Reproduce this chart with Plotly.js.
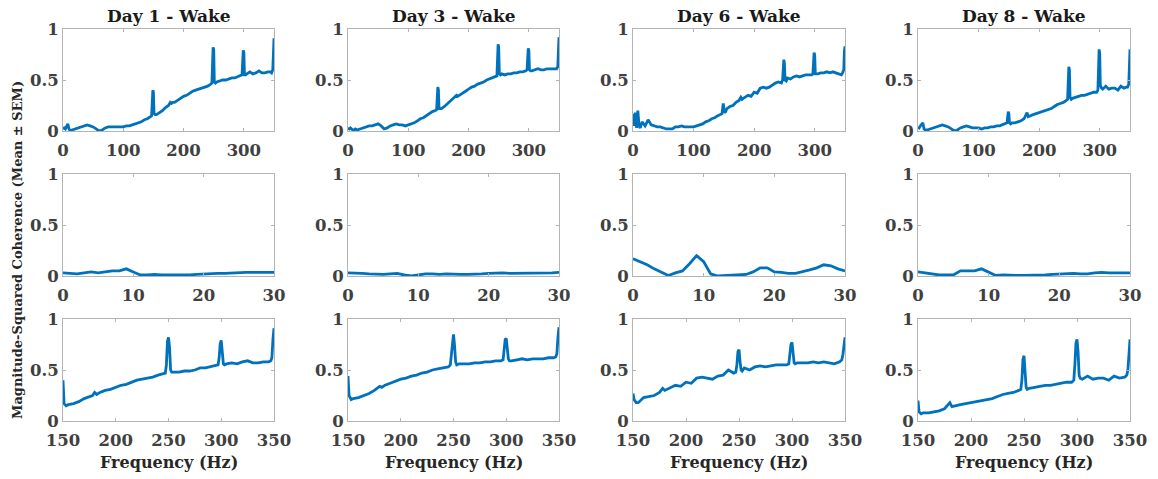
<!DOCTYPE html>
<html>
<head>
<meta charset="utf-8">
<script src="https://cdn.plot.ly/plotly-3.0.1.min.js"></script>
<style>html,body{margin:0;padding:0;background:#fff;}#chart{width:1158px;height:479px;}</style>
</head>
<body>
<div id="chart"></div>
<script>
// ---------- DATA ----------
const panelTitles = ["Day 1 - Wake", "Day 3 - Wake", "Day 6 - Wake", "Day 8 - Wake"];
const yAxisLabel = "Magnitude-Squared Coherence (Mean ± SEM)";
const xAxisLabel = "Frequency (Hz)";
const yTickVals = [0, 0.5, 1];
const yTickText = ["0", "0.5", "1"];

// Row 1: 0-350 Hz
const freqFull = [0,2,4,6,8,10,12,15,20,25,30,35,40,45,50,55,60,65,70,75,80,85,90,95,100,105,110,115,120,125,130,135,140,145,147,149,150,151,153,155,160,165,170,175,178,180,182,185,190,195,200,205,210,215,220,225,230,235,240,245,247,249,250,251,253,255,260,265,270,275,280,285,290,295,297,299,300,301,303,305,310,315,320,325,330,335,340,344,346,348,349,350];
const fullDay1 = [0.02,0.03,0.02,0.05,0.07,0.02,0.00,0.01,0.02,0.03,0.04,0.05,0.06,0.05,0.04,0.02,0.00,0.01,0.03,0.04,0.04,0.04,0.04,0.04,0.04,0.05,0.05,0.06,0.07,0.08,0.09,0.11,0.12,0.14,0.15,0.40,0.38,0.17,0.16,0.16,0.18,0.20,0.23,0.25,0.28,0.27,0.28,0.28,0.30,0.32,0.34,0.35,0.37,0.39,0.40,0.41,0.42,0.43,0.44,0.46,0.47,0.82,0.80,0.48,0.47,0.48,0.49,0.50,0.50,0.51,0.52,0.52,0.53,0.54,0.55,0.79,0.77,0.55,0.55,0.56,0.58,0.56,0.57,0.59,0.57,0.57,0.58,0.58,0.57,0.60,0.80,0.91];
const fullDay3 = [0.03,0.02,0.03,0.02,0.01,0.01,0.02,0.01,0.02,0.03,0.04,0.05,0.05,0.06,0.07,0.05,0.02,0.03,0.05,0.06,0.07,0.06,0.06,0.05,0.06,0.07,0.08,0.10,0.12,0.13,0.15,0.17,0.19,0.20,0.21,0.43,0.40,0.22,0.22,0.22,0.24,0.27,0.29,0.32,0.34,0.35,0.34,0.35,0.37,0.39,0.41,0.43,0.44,0.46,0.47,0.48,0.50,0.51,0.52,0.53,0.54,0.85,0.82,0.56,0.55,0.56,0.55,0.56,0.56,0.57,0.57,0.58,0.58,0.59,0.60,0.81,0.79,0.60,0.59,0.59,0.60,0.61,0.60,0.60,0.61,0.61,0.61,0.61,0.61,0.63,0.82,0.92];
const fullDay6 = [0.17,0.05,0.18,0.03,0.20,0.05,0.03,0.09,0.05,0.11,0.06,0.05,0.04,0.04,0.03,0.02,0.02,0.02,0.04,0.04,0.05,0.04,0.04,0.04,0.04,0.05,0.06,0.07,0.09,0.10,0.12,0.13,0.15,0.17,0.17,0.27,0.24,0.18,0.19,0.22,0.24,0.25,0.28,0.30,0.33,0.31,0.32,0.33,0.35,0.34,0.38,0.37,0.42,0.43,0.42,0.43,0.45,0.47,0.48,0.47,0.50,0.70,0.66,0.50,0.49,0.52,0.51,0.53,0.54,0.53,0.54,0.55,0.55,0.55,0.56,0.77,0.74,0.56,0.56,0.56,0.57,0.57,0.58,0.57,0.58,0.57,0.56,0.55,0.57,0.60,0.78,0.83];
const fullDay8 = [0.04,0.03,0.05,0.07,0.08,0.02,0.01,0.01,0.02,0.03,0.04,0.05,0.06,0.05,0.04,0.02,0.00,0.01,0.03,0.04,0.05,0.04,0.03,0.03,0.03,0.02,0.03,0.03,0.04,0.04,0.05,0.05,0.06,0.07,0.08,0.19,0.17,0.08,0.07,0.08,0.08,0.09,0.10,0.12,0.15,0.18,0.14,0.15,0.16,0.17,0.18,0.19,0.20,0.21,0.22,0.24,0.26,0.27,0.28,0.30,0.31,0.63,0.60,0.33,0.31,0.32,0.33,0.34,0.35,0.35,0.36,0.37,0.38,0.38,0.40,0.80,0.76,0.45,0.42,0.41,0.44,0.41,0.42,0.42,0.40,0.44,0.42,0.43,0.43,0.46,0.72,0.80];

// Row 2: 0-30 Hz
const freqLow = [0,1,2,3,4,5,6,7,8,9,10,11,12,13,14,15,16,17,18,19,20,21,22,23,24,25,26,27,28,29,30];
const lowDay1 = [0.03,0.025,0.02,0.03,0.04,0.03,0.04,0.05,0.05,0.07,0.04,0.01,0.01,0.015,0.01,0.01,0.005,0.01,0.01,0.015,0.02,0.02,0.025,0.025,0.03,0.03,0.035,0.035,0.035,0.035,0.035];
const lowDay3 = [0.03,0.03,0.025,0.02,0.015,0.015,0.02,0.025,0.01,0.0,0.01,0.02,0.02,0.015,0.02,0.015,0.015,0.015,0.015,0.02,0.025,0.03,0.03,0.025,0.025,0.03,0.03,0.025,0.025,0.03,0.035];
const lowDay6 = [0.17,0.14,0.11,0.07,0.04,0.005,0.03,0.05,0.12,0.20,0.14,0.02,0.0,0.005,0.01,0.015,0.015,0.04,0.08,0.08,0.04,0.035,0.025,0.025,0.04,0.06,0.08,0.11,0.10,0.07,0.05];
const lowDay8 = [0.04,0.03,0.015,0.01,0.01,0.01,0.05,0.05,0.05,0.07,0.04,0.005,0.01,0.005,0.005,0.005,0.005,0.01,0.01,0.015,0.02,0.02,0.025,0.02,0.02,0.03,0.035,0.03,0.03,0.03,0.03];

// Row 3: 150-350 Hz
const freqHigh = [150,151,153,155,160,165,170,175,178,180,182,185,190,195,200,205,210,215,220,225,230,235,240,245,247,248,249,250,251,252,253,255,260,265,270,275,280,285,290,295,297,298,299,300,301,302,303,305,310,315,320,325,330,335,340,345,347,348,349,350];
const highDay1 = [0.40,0.17,0.15,0.16,0.17,0.19,0.22,0.24,0.25,0.28,0.26,0.28,0.30,0.31,0.33,0.35,0.36,0.38,0.40,0.41,0.42,0.43,0.45,0.46,0.47,0.55,0.78,0.82,0.72,0.50,0.48,0.48,0.48,0.49,0.49,0.50,0.52,0.52,0.53,0.54,0.55,0.62,0.76,0.79,0.70,0.56,0.55,0.56,0.57,0.56,0.58,0.59,0.57,0.57,0.58,0.58,0.59,0.62,0.80,0.91];
const highDay3 = [0.44,0.25,0.21,0.22,0.23,0.25,0.27,0.30,0.32,0.34,0.33,0.35,0.37,0.39,0.41,0.42,0.44,0.45,0.47,0.48,0.50,0.51,0.52,0.53,0.55,0.65,0.82,0.85,0.74,0.58,0.55,0.56,0.56,0.56,0.57,0.57,0.58,0.58,0.59,0.59,0.60,0.68,0.80,0.81,0.72,0.61,0.59,0.59,0.60,0.61,0.60,0.61,0.61,0.61,0.62,0.62,0.63,0.66,0.82,0.92];
const highDay6 = [0.27,0.21,0.18,0.18,0.23,0.24,0.25,0.28,0.32,0.30,0.31,0.32,0.35,0.34,0.38,0.37,0.42,0.43,0.42,0.41,0.44,0.45,0.50,0.47,0.48,0.55,0.68,0.70,0.58,0.50,0.49,0.52,0.50,0.53,0.54,0.53,0.54,0.55,0.55,0.55,0.56,0.65,0.75,0.77,0.66,0.57,0.56,0.57,0.57,0.57,0.58,0.57,0.58,0.57,0.56,0.58,0.60,0.65,0.78,0.82];
const highDay8 = [0.20,0.09,0.07,0.08,0.08,0.09,0.10,0.12,0.15,0.18,0.14,0.15,0.16,0.17,0.18,0.19,0.20,0.21,0.22,0.24,0.26,0.27,0.28,0.30,0.31,0.40,0.60,0.64,0.50,0.33,0.31,0.32,0.33,0.34,0.35,0.35,0.36,0.37,0.38,0.38,0.40,0.55,0.76,0.80,0.68,0.45,0.42,0.41,0.44,0.41,0.42,0.42,0.40,0.44,0.42,0.43,0.45,0.50,0.72,0.80];

// ---------- BUILD ----------
const rows = [
  {x: freqFull, ys: [fullDay1, fullDay3, fullDay6, fullDay8], range: [0, 350], tickvals: [0,100,200,300]},
  {x: freqLow,  ys: [lowDay1, lowDay3, lowDay6, lowDay8],     range: [0, 30],  tickvals: [0,10,20,30]},
  {x: freqHigh, ys: [highDay1, highDay3, highDay6, highDay8], range: [150, 350], tickvals: [150,200,250,300,350]}
];

const W = 1158, H = 479;
const colPx = [[63, 274], [348, 559], [633, 845], [918, 1130]];
const rowPx = [[29, 131], [174, 276], [319, 421]];

const lineColor = '#0072BD';
const axisColor = '#b4b4b4';
const FAM = 'DejaVu Serif, serif';
const tickFont = {family: FAM, size: 16.5, color: '#404040', weight: 'bold'};

const data = [];
const layout = {
  width: W, height: H,
  margin: {l: 0, r: 0, t: 0, b: 0},
  paper_bgcolor: '#ffffff', plot_bgcolor: '#ffffff',
  showlegend: false,
  annotations: []
};

for (let r = 0; r < 3; r++) {
  for (let c = 0; c < 4; c++) {
    const k = r * 4 + c + 1;
    const xa = 'xaxis' + (k === 1 ? '' : k);
    const ya = 'yaxis' + (k === 1 ? '' : k);
    const xr = 'x' + (k === 1 ? '' : k);
    const yr = 'y' + (k === 1 ? '' : k);
    data.push({
      type: 'scatter', mode: 'lines',
      x: rows[r].x, y: rows[r].ys[c],
      xaxis: xr, yaxis: yr,
      line: {color: lineColor, width: 2.8},
      hoverinfo: 'skip'
    });
    const common = {
      showline: true, linecolor: axisColor, linewidth: 1, mirror: 'ticks',
      ticks: 'inside', ticklen: 3, tickcolor: axisColor, tickwidth: 1,
      showgrid: false, zeroline: false, tickfont: tickFont, fixedrange: true
    };
    layout[xa] = Object.assign({}, common, {
      domain: [colPx[c][0] / W, colPx[c][1] / W],
      range: rows[r].range, tickmode: 'array', tickvals: rows[r].tickvals,
      ticklabelstandoff: 4,
      anchor: yr
    });
    layout[ya] = Object.assign({}, common, {
      domain: [1 - rowPx[r][1] / H, 1 - rowPx[r][0] / H],
      range: [0, 1], tickmode: 'array', tickvals: yTickVals, ticktext: yTickText,
      anchor: xr
    });
    if (r === 0) {
      layout.annotations.push({
        text: panelTitles[c], xref: 'paper', yref: 'paper',
        x: (colPx[c][0] + colPx[c][1]) / 2 / W, y: 1 - 16 / H,
        xanchor: 'center', yanchor: 'middle', showarrow: false,
        font: {family: FAM, size: 17, color: '#1a1a1a', weight: 'bold'}
      });
    }
    if (r === 2) {
      layout.annotations.push({
        text: xAxisLabel, xref: 'paper', yref: 'paper',
        x: (colPx[c][0] + colPx[c][1]) / 2 / W, y: 1 - 462 / H,
        xanchor: 'center', yanchor: 'middle', showarrow: false,
        font: {family: FAM, size: 16, color: '#262626', weight: 'bold'}
      });
    }
  }
}
layout.annotations.push({
  text: yAxisLabel, xref: 'paper', yref: 'paper',
  x: 17 / W, y: 1 - 250 / H, textangle: -90,
  xanchor: 'center', yanchor: 'middle', showarrow: false,
  font: {family: FAM, size: 13, color: '#262626', weight: 'bold'}
});

Plotly.newPlot('chart', data, layout, {displayModeBar: false, staticPlot: true});
</script>
</body>
</html>
